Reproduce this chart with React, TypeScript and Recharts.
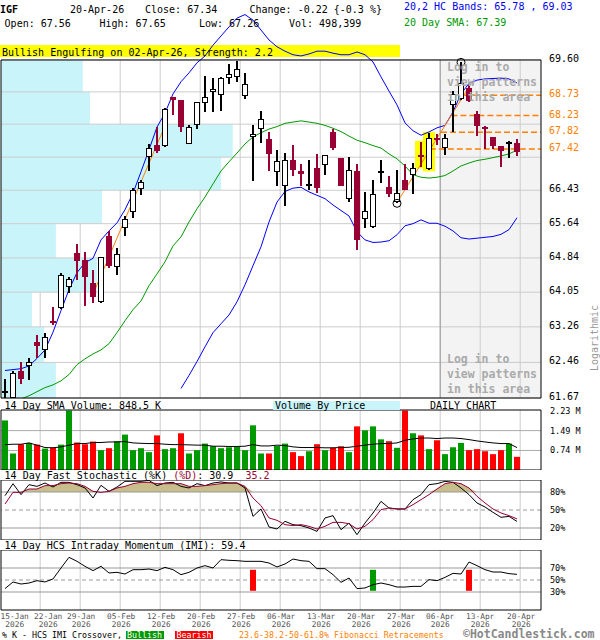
import React from 'react';
import {
  ComposedChart, Bar, Line, Area, XAxis, YAxis,
  ReferenceLine, ReferenceArea, ReferenceDot, Cell,
} from 'recharts';

const MONO = '"DejaVu Sans Mono", "Liberation Mono", monospace';
const MAROON = '#990033';
const ORANGE = '#ff7f00';
const GREEN = '#009900';
const GRID = '#cccccc';

// ---------- x axis (trading-day index, 0 = 15-Jan-2026) ----------
const TICK_INDEX = [0, 4, 9, 14, 19, 24, 29, 34, 39, 44, 49, 54, 59, 64];
const TICK_LABELS = ['15-Jan', '22-Jan', '29-Jan', '05-Feb', '12-Feb', '20-Feb', '27-Feb',
  '06-Mar', '13-Mar', '20-Mar', '27-Mar', '06-Apr', '13-Apr', '20-Apr'];
const TICK_YEAR = '2026';
const TICK_DX = [6.5, 8, 1, 1, 1, 1, 1, 1, 1, 1, 1, 0, 0, 1];
const GRID_OFFSET = 0.4;
const X_DOMAIN: [number, number] = [-0.5, 67];

// ---------- price (OHLC) ----------
const OPEN = [61.81, 61.69, 62.26, 62.39, 62.92, 62.76, 63.40, 63.69, 64.17, 64.95,
  64.80, 64.27, 63.84, 65.36, 64.64, 65.56, 65.93, 66.48, 67.24, 67.52,
  67.50, 68.68, 68.61, 67.56, 68.02, 68.56, 68.83, 68.75, 69.17, 69.20,
  68.73, 67.71, 67.92, 67.66, 66.88, 66.55, 67.16, 66.88, 66.56, 66.96,
  67.05, 67.84, 67.20, 66.23, 66.89, 65.75, 65.57, 66.86, 66.50, 66.16,
  66.68, 66.81, 67.28, 66.96, 67.68, 67.46, 68.49, 68.64, 68.91, 68.26,
  67.94, 67.70, 67.49, 67.56, 67.56];
const HIGH = [62.09, 62.26, 62.47, 62.57, 63.08, 63.13, 63.72, 64.49, 64.40, 65.17,
  64.97, 64.57, 64.86, 65.46, 65.07, 65.82, 66.49, 66.68, 67.53, 67.96,
  68.42, 68.69, 68.62, 68.00, 68.57, 69.19, 69.16, 69.18, 69.49, 69.58,
  69.27, 68.00, 68.33, 67.84, 67.40, 67.32, 67.52, 67.06, 67.16, 67.30,
  67.26, 67.90, 67.21, 67.22, 67.05, 66.38, 66.68, 67.16, 66.76, 66.92,
  67.05, 67.08, 67.58, 67.80, 67.78, 67.78, 68.82, 69.54, 68.98, 68.33,
  67.98, 67.71, 67.50, 67.61, 67.65];
const LOW = [61.65, 61.68, 61.99, 62.06, 62.56, 62.57, 63.31, 63.66, 64.04, 64.33,
  63.74, 63.81, 63.81, 64.60, 64.45, 65.36, 65.77, 66.32, 66.88, 67.33,
  67.46, 68.24, 67.82, 67.55, 67.90, 68.31, 68.31, 68.35, 69.01, 69.06,
  68.63, 66.65, 67.56, 66.89, 66.53, 66.06, 66.77, 66.53, 66.44, 66.36,
  66.80, 67.40, 66.52, 66.16, 65.03, 65.55, 65.55, 66.61, 66.28, 66.12,
  66.43, 66.34, 66.99, 66.92, 67.52, 67.28, 67.84, 68.61, 68.57, 67.72,
  67.42, 67.42, 66.99, 67.21, 67.26];
const CLOSE = [61.81, 62.21, 62.09, 62.45, 62.82, 63.02, 63.35, 64.43, 64.33, 64.76,
  64.39, 63.94, 64.84, 64.66, 64.91, 65.73, 66.42, 66.61, 67.44, 67.38,
  68.37, 68.62, 67.96, 67.95, 68.56, 68.68, 68.88, 69.15, 69.25, 69.37,
  69.00, 67.78, 68.14, 67.29, 67.11, 67.13, 66.92, 66.82, 66.56, 66.49,
  67.25, 67.44, 66.53, 66.89, 65.26, 65.93, 66.34, 66.86, 66.34, 66.36,
  66.44, 66.96, 67.22, 67.68, 67.64, 67.68, 68.75, 69.02, 68.59, 67.98,
  67.90, 67.50, 67.36, 67.56, 67.34];

// ---------- HC bands & 20-day SMA ----------
const UPPER_BAND = [62.28, 62.30, 62.32, 62.38, 62.55, 62.74, 63.14, 63.63, 64.11, 64.50,
  64.73, 64.83, 65.26, 65.47, 65.66, 65.97, 66.36, 66.87, 67.40, 67.95,
  68.29, 68.76, 69.06, 69.28, 69.53, 69.70, 69.97, 70.20, 70.43, 70.65,
  70.74, 70.60, 70.35, 70.10, 69.93, 69.82, 69.73, 69.70, 69.75, 69.82,
  69.82, 69.77, 69.73, 69.73, 69.80, 69.73, 69.55, 69.18, 68.83, 68.49,
  68.05, 67.86, 67.75, 67.83, 67.93, 67.99, 68.32, 68.76, 69.02, 69.10,
  69.13, 69.14, 69.15, 69.13, 69.03];
const LOWER_BAND = [null, null, null, null, null, null, null, null, null, null,
  null, null, null, null, null, null, null, null, null, null,
  null, null, 61.88, 62.17, 62.48, 62.81, 63.13, 63.33, 63.53, 63.83,
  64.22, 64.66, 65.10, 65.68, 66.15, 66.40, 66.48, 66.50, 66.39, 66.31,
  66.23, 66.08, 65.95, 65.82, 65.45, 65.26, 65.20, 65.21, 65.24, 65.38,
  65.59, 65.64, 65.73, 65.65, 65.65, 65.58, 65.47, 65.31, 65.28, 65.30,
  65.32, 65.34, 65.39, 65.50, 65.78];
const SMA20 = [null, null, 61.65, 61.72, 61.81, 61.90, 61.96, 62.05, 62.19, 62.41,
  62.54, 62.65, 62.74, 62.88, 63.13, 63.40, 63.65, 63.85, 64.20, 64.47,
  64.75, 65.12, 65.33, 65.68, 65.99, 66.27, 66.58, 66.89, 67.11, 67.32,
  67.54, 67.71, 67.81, 67.90, 67.96, 68.04, 68.07, 68.10, 68.07, 68.04,
  67.99, 67.92, 67.84, 67.73, 67.63, 67.57, 67.50, 67.44, 67.30, 67.18,
  67.01, 66.80, 66.74, 66.72, 66.74, 66.78, 66.89, 67.01, 67.08, 67.14,
  67.17, 67.21, 67.25, 67.30, 67.39];

// ---------- price axis ----------
const GRID_PRICES = [61.67, 62.46, 63.26, 64.05, 64.84, 65.64, 66.43, 67.22, 68.02, 68.81, 69.60];
const PRICE_LABELS = [61.67, 62.46, 63.26, 64.05, 64.84, 65.64, 66.43, 69.60];
const PRICE_DOMAIN: [number, number] = [61.67, 71.11];
const PANEL_LOW = 61.67;
const PANEL_HIGH = 69.60;

// ---------- volume by price (millions, bands between grid prices, bottom -> top) ----------
const VBP_VOLUME = [2.37, 1.86, 1.34, 4.14, 2.37, 4.36, 9.50, 10.0, 3.84, 3.53];
const VBP_UNITS_PER_M = 2.896;

// ---------- patterns / fibonacci ----------
const FIB_LEVELS = [68.73, 68.23, 67.82, 67.42];
const FIB_START = [57.4, 55.8, 54.5, 53.1];
const TREND_LINES = [
  { x1: 10.85, y1: 63.94, x2: 20, y2: 67.98 },
  { x1: 49, y1: 66.14, x2: 58, y2: 68.93 },
];
const SWING_POINTS = [{ i: 49, kind: 'low' }, { i: 57, kind: 'high' }];
const ENGULF_IDX = [52, 53];
const SHADE_FROM = 54;

// ---------- volume ----------
const VOLUME = [1.875, 0.625, 0.975, 1.025, 0.96, 0.81, 0.85, 0.96, 2.25, 1.04,
  0.975, 1.075, 0.75, 0.825, 1.09, 1.34, 0.75, 0.825, 0.675, 1.31,
  0.79, 0.825, 1.39, 0.625, 0.75, 1.0, 0.9, 0.825, 0.86, 0.875,
  0.75, 1.69, 0.625, 0.625, 0.91, 1.0, 0.675, 0.525, 0.71, 0.975,
  0.75, 0.84, 0.9, 0.675, 1.65, 1.5, 1.65, 1.16, 1.09, 0.84,
  2.25, 1.39, 1.31, 0.79, 1.125, 0.6, 0.86, 1.025, 0.75, 0.79,
  0.71, 0.6, 0.75, 1.0, 0.498];
const VOL_UP = [1, 1, 0, 1, 0, 1, 0, 1, 1, 0,
  0, 0, 1, 0, 1, 1, 1, 1, 1, 0,
  1, 1, 0, 1, 1, 1, 1, 1, 1, 1,
  1, 1, 1, 0, 1, 1, 0, 0, 1, 0,
  1, 0, 0, 1, 0, 1, 1, 1, 0, 1,
  0, 1, 0, 1, 0, 1, 1, 1, 0, 0,
  0, 0, 0, 1, 0];
const VOL_SMA = [0.96, 0.975, 0.975, 1.025, 0.94, 0.85, 0.84, 0.875, 0.94, 1.0,
  1.0, 1.04, 1.04, 1.06, 1.06, 1.075, 1.025, 1.01, 1.0, 1.0,
  0.975, 0.96, 0.96, 0.95, 0.94, 0.94, 0.9, 0.9, 0.89, 0.89,
  0.9, 0.96, 0.91, 0.91, 0.94, 0.925, 0.875, 0.85, 0.85, 0.85,
  0.84, 0.84, 0.85, 0.86, 0.9, 0.94, 0.975, 1.0, 1.0, 1.025,
  1.125, 1.175, 1.21, 1.21, 1.19, 1.21, 1.21, 1.19, 1.15, 1.1,
  1.06, 1.025, 1.0, 1.0, 0.8485];
const VOL_TICKS = [0.74, 1.49, 2.23];
const VOL_DOMAIN: [number, number] = [0, 2.27];

// ---------- stochastic ----------
const STOCH_K = [73.9, 93.9, 75.6, 92.2, 89.4, 95, 88.3, 96.1, 96.1, 92.2,
  86.7, 70, 91.1, 81.1, 88.3, 97.8, 97.8, 97.8, 99.4, 90.6,
  95, 96.1, 89.4, 86.7, 93.9, 90.6, 95, 96.7, 95, 95,
  86.7, 39.4, 51.7, 21.7, 18.3, 31.1, 25.6, 23.9, 20, 14.4,
  36.7, 40.6, 17.2, 28.3, 8.9, 28.3, 45, 64.4, 53.3, 51.7,
  51.7, 67.2, 75.6, 92.2, 93.9, 97.8, 96.1, 86.7, 75.6, 61.7,
  55, 46.1, 37.8, 39.4, 30.9];
const STOCH_D = [60, 79.4, 79.4, 85, 85, 90.6, 90.6, 93.9, 95, 93.9,
  89.4, 81.1, 79.4, 81.1, 86.7, 89.4, 93.9, 96.1, 96.1, 93.9,
  93.9, 93.9, 93.9, 89.4, 89.4, 90.6, 92.2, 93.9, 95, 95,
  89.4, 70, 57.2, 36.7, 32.8, 25.6, 23.9, 25.6, 22.8, 18.3,
  22.8, 29.4, 29.4, 27.2, 18.3, 22.8, 33.9, 50.6, 53.3, 51.7,
  51.7, 58.9, 67.2, 75.6, 85, 93.9, 96.1, 93.9, 86.7, 72.8,
  61.7, 51.7, 45, 40.6, 35.2];
const STOCH_LEVELS = [80, 50, 20];

// ---------- intraday momentum ----------
const IMI = [35.6, 46.7, 43.3, 45, 48.9, 46.7, 51.7, 70, 87.8, 81.1,
  72.8, 65.6, 72.8, 61.7, 62.8, 60, 67.2, 67.2, 68.3, 65.6,
  71.1, 67.2, 58.9, 62.8, 70, 73.9, 70, 83.9, 82.8, 82.2,
  81.1, 81.1, 81.1, 78.3, 71.7, 76.7, 85, 82.2, 81.1, 68.9,
  68.9, 58.9, 46.1, 53.3, 35.6, 36.7, 42.2, 45, 42.2, 38.3,
  38.3, 39.4, 39.4, 50.6, 48.9, 54.4, 61.1, 60, 80, 73.9,
  67.2, 63.3, 63.3, 60.6, 59.4];
const IMI_LEVELS = [70, 50, 30];
const CROSSOVERS = [{ i: 31, bull: false }, { i: 46, bull: true }, { i: 58, bull: false }];
const SIGNAL_RANGE: [number, number] = [32, 67];

const gridXs = TICK_INDEX.slice(1).map((t) => t + GRID_OFFSET);

const Candle = (props: any) => {
  const { x, y, width, height, payload } = props;
  if (!payload || x == null || y == null) return null;
  const { o, h, l, c } = payload;
  const top = Math.min(y, y + height);
  const bot = Math.max(y, y + height);
  const lh = Math.log(h);
  const ll = Math.log(l);
  const py = (v: number) => top + ((bot - top) * (lh - Math.log(v))) / (lh - ll);
  const cx = Math.round(x + width / 2);
  if (o === c) {
    return (
      <g shapeRendering="crispEdges">
        <line x1={cx} x2={cx} y1={top} y2={bot} stroke="#000" strokeWidth={1.3} />
        <line x1={cx - 3} x2={cx + 3} y1={py(o)} y2={py(o)} stroke="#000" strokeWidth={2} />
      </g>
    );
  }
  if (c > o) {
    return (
      <g shapeRendering="crispEdges">
        <line x1={cx} x2={cx} y1={top} y2={bot} stroke="#000" strokeWidth={1.3} />
        <rect x={cx - 2.5} y={py(c)} width={5} height={Math.max(1, py(o) - py(c))} fill="#fff" stroke="#000" strokeWidth={1} />
      </g>
    );
  }
  return (
    <g shapeRendering="crispEdges">
      <line x1={cx} x2={cx} y1={top} y2={bot} stroke={MAROON} strokeWidth={1.3} />
      <rect x={cx - 3} y={py(o)} width={6} height={Math.max(1.5, py(c) - py(o))} fill={MAROON} />
    </g>
  );
};

const PriceTick = (props: any) => {
  const { x, y, payload } = props;
  const v = payload.value as number;
  const fib = FIB_LEVELS.includes(v);
  return (
    <text x={x} y={y} dy={2} textAnchor="start" fontFamily={MONO} fontSize={10} fill={fib ? ORANGE : '#000'}>
      {v.toFixed(2)}
    </text>
  );
};

const makeSmallTick = (fmt: (v: number) => string) => (props: any) => {
  const { x, y, payload } = props;
  return (
    <text x={x} y={y} dy={3} textAnchor="start" fontFamily={MONO} fontSize={8.5} fill="#000">
      {fmt(payload.value)}
    </text>
  );
};
const VolTick = makeSmallTick((v) => `${v.toFixed(2)} M`);
const PctTick = makeSmallTick((v) => `${v}%`);

const DateTick = (props: any) => {
  const { x, y, payload } = props;
  const k = TICK_INDEX.findIndex((t) => Math.abs(t + GRID_OFFSET - payload.value) < 1e-6);
  if (k < 0) return null;
  const tx = x + TICK_DX[k];
  return (
    <g>
      <text x={tx} y={y + 9} textAnchor="middle" fontFamily={MONO} fontSize={7.8} fill="#555">{TICK_LABELS[k]}</text>
      <text x={tx} y={y + 17} textAnchor="middle" fontFamily={MONO} fontSize={7.8} fill="#555">{TICK_YEAR}</text>
    </g>
  );
};

const Txt = ({ x, cy, size = 10, color = '#000', bold = false, children, bg }: any) => (
  <div
    style={{
      position: 'absolute', left: x, top: cy - size * 0.48, fontSize: size, lineHeight: `${size}px`,
      fontFamily: MONO, color, fontWeight: bold ? 'bold' : 'normal', whiteSpace: 'pre', background: bg,
    }}
  >
    {children}
  </div>
);

export default function App() {
  const priceRows = OPEN.map((o, i) => ({
    i, o, h: HIGH[i], l: LOW[i], c: CLOSE[i], ub: UPPER_BAND[i], lb: LOWER_BAND[i], sma: SMA20[i],
  }));
  const volRows = VOLUME.map((v, i) => ({ i, v, s: VOL_SMA[i], up: VOL_UP[i] }));
  const stochRows = STOCH_K.map((k, i) => ({ i, k, d: STOCH_D[i] }));
  const imiRows = IMI.map((m, i) => ({ i, m }));

  const vGrid = (lo: number, hi: number, key: string) =>
    gridXs.map((gx) => (
      <ReferenceLine key={`${key}${gx}`} segment={[{ x: gx, y: lo }, { x: gx, y: hi }]} stroke={GRID} zIndex={2} />
    ));

  return (
    <div style={{ position: 'absolute', left: 0, top: 0, width: 600, height: 640, background: '#fff', overflow: 'hidden' }}>
      {/* pattern banner (under chart) */}
      <div style={{ position: 'absolute', left: 0, top: 45, width: 400, height: 12, background: '#ffff00' }} />

      {/* ---------- PRICE PANEL ---------- */}
      <div style={{ position: 'absolute', left: 0, top: 0 }}>
        <ComposedChart width={600} height={410} data={priceRows} margin={{ top: 0, right: 0, bottom: 12, left: 1 }}>
          <XAxis dataKey="i" type="number" domain={X_DOMAIN} hide allowDataOverflow />
          <YAxis
            orientation="right" width={59} type="number" scale="log" domain={PRICE_DOMAIN} allowDataOverflow
            ticks={[...PRICE_LABELS, ...FIB_LEVELS]} interval={0} tick={<PriceTick />}
            tickLine={false} axisLine={false} tickSize={0} tickMargin={8}
          />
          <ReferenceArea x1={SHADE_FROM + GRID_OFFSET} x2={X_DOMAIN[1]} y1={PANEL_LOW} y2={PANEL_HIGH} fill="#f3f3f3" fillOpacity={1} stroke="none" zIndex={1} />
          {vGrid(PANEL_LOW, PANEL_HIGH, 'pv')}
          {VBP_VOLUME.map((v, k) => (
            <ReferenceArea key={`vbp${k}`} x1={X_DOMAIN[0]} x2={X_DOMAIN[0] + v * VBP_UNITS_PER_M}
              y1={GRID_PRICES[k]} y2={GRID_PRICES[k + 1]} fill="#c8f4fa" fillOpacity={1} stroke="none" zIndex={3} />
          ))}
          {GRID_PRICES.map((p) => (
            <ReferenceLine key={`ph${p}`} y={p} stroke={GRID} zIndex={4} />
          ))}
          <ReferenceLine segment={[{ x: SHADE_FROM + GRID_OFFSET, y: PANEL_LOW }, { x: SHADE_FROM + GRID_OFFSET, y: PANEL_HIGH }]} stroke="#999" zIndex={4} />
          {ENGULF_IDX.map((idx) => (
            <ReferenceArea key={`hl${idx}`} x1={idx - 0.75} x2={idx + 0.75} y1={LOW[idx] - 0.04} y2={HIGH[idx] + 0.035}
              fill="#ffff00" fillOpacity={1} stroke="none" zIndex={5} />
          ))}
          <Line dataKey="ub" stroke="#0000ff" strokeWidth={1} dot={false} activeDot={false} isAnimationActive={false} zIndex={6} />
          <Line dataKey="lb" stroke="#0000ff" strokeWidth={1} dot={false} activeDot={false} isAnimationActive={false} zIndex={6} />
          <Line dataKey="sma" stroke={GREEN} strokeWidth={1} dot={false} activeDot={false} isAnimationActive={false} zIndex={6} />
          {TREND_LINES.map((t, k) => (
            <ReferenceLine key={`tr${k}`} segment={[{ x: t.x1, y: t.y1 }, { x: t.x2, y: t.y2 }]} stroke={ORANGE} strokeWidth={1} zIndex={7} />
          ))}
          {FIB_LEVELS.map((lv, k) => (
            <ReferenceLine key={`fib${k}`} segment={[{ x: FIB_START[k], y: lv }, { x: X_DOMAIN[1], y: lv }]}
              stroke={ORANGE} strokeWidth={1.5} strokeDasharray="6 3" zIndex={7} />
          ))}
          <Bar dataKey={(d: any) => [d.l, d.h]} shape={(p: any) => <Candle {...p} />} barSize={6} isAnimationActive={false} zIndex={8} />
          {SWING_POINTS.map((s) => (
            <ReferenceDot key={`sw${s.i}`} x={s.i} y={s.kind === 'low' ? LOW[s.i] : HIGH[s.i]} r={4}
              fill="none" stroke="#000" strokeWidth={1} zIndex={9} />
          ))}
          <ReferenceArea x1={X_DOMAIN[0]} x2={X_DOMAIN[1]} y1={PANEL_LOW} y2={PANEL_HIGH} fill="none" stroke="#000" strokeWidth={1} zIndex={10} />
        </ComposedChart>
      </div>

      {/* ---------- VOLUME PANEL ---------- */}
      <div style={{ position: 'absolute', left: 0, top: 404 }}>
        <ComposedChart width={600} height={66} data={volRows} margin={{ top: 6, right: 0, bottom: 0, left: 1 }}>
          <XAxis dataKey="i" type="number" domain={X_DOMAIN} hide allowDataOverflow />
          <YAxis orientation="right" width={59} type="number" domain={VOL_DOMAIN} allowDataOverflow ticks={VOL_TICKS}
            interval={0} tick={<VolTick />} tickLine={false} axisLine={false} tickSize={0} tickMargin={9} />
          {vGrid(VOL_DOMAIN[0], VOL_DOMAIN[1], 'vv')}
          {VOL_TICKS.slice(0, 2).map((v) => (
            <ReferenceLine key={`vh${v}`} y={v} stroke="#aaa" zIndex={3} />
          ))}
          <Bar dataKey="v" barSize={6} isAnimationActive={false} zIndex={5}>
            {volRows.map((r) => (
              <Cell key={`vc${r.i}`} fill={r.up ? GREEN : '#ff0000'} />
            ))}
          </Bar>
          <Line dataKey="s" stroke="#000" strokeWidth={1} dot={false} activeDot={false} isAnimationActive={false} zIndex={6} />
          <ReferenceArea x1={X_DOMAIN[0]} x2={X_DOMAIN[1]} y1={VOL_DOMAIN[0]} y2={VOL_DOMAIN[1]} fill="none" stroke="#000" zIndex={10} />
        </ComposedChart>
      </div>

      {/* ---------- STOCHASTIC PANEL ---------- */}
      <div style={{ position: 'absolute', left: 0, top: 480 }}>
        <ComposedChart width={600} height={60} data={stochRows} margin={{ top: 0, right: 0, bottom: 0, left: 1 }}>
          <XAxis dataKey="i" type="number" domain={X_DOMAIN} hide allowDataOverflow />
          <YAxis orientation="right" width={59} type="number" domain={[0, 100]} ticks={STOCH_LEVELS}
            interval={0} tick={<PctTick />} tickLine={false} axisLine={false} tickSize={0} tickMargin={9} />
          {vGrid(0, 100, 'sv')}
          <Area dataKey={(d: any) => [80, Math.max(80, d.d)]} type="linear" stroke="none" fill="#c8be8c" fillOpacity={1}
            isAnimationActive={false} activeDot={false} zIndex={3} />
          {STOCH_LEVELS.map((v) => (
            <ReferenceLine key={`sh${v}`} y={v} stroke="#999" strokeDasharray={v === 50 ? '4 3' : undefined} zIndex={4} />
          ))}
          <Line dataKey="k" stroke="#000" strokeWidth={1} dot={false} activeDot={false} isAnimationActive={false} zIndex={6} />
          <Line dataKey="d" stroke={MAROON} strokeWidth={1} dot={false} activeDot={false} isAnimationActive={false} zIndex={7} />
          <ReferenceArea x1={X_DOMAIN[0]} x2={X_DOMAIN[1]} y1={0} y2={100} fill="none" stroke="#000" zIndex={10} />
        </ComposedChart>
      </div>

      {/* ---------- IMI PANEL ---------- */}
      <div style={{ position: 'absolute', left: 0, top: 550 }}>
        <ComposedChart width={600} height={84} data={imiRows} margin={{ top: 0, right: 0, bottom: 0, left: 1 }}>
          <XAxis dataKey="i" type="number" domain={X_DOMAIN} allowDataOverflow height={24}
            ticks={TICK_INDEX.map((t) => t + GRID_OFFSET)} interval={0} tick={<DateTick />}
            tickLine={false} axisLine={false} tickSize={0} tickMargin={0} />
          <YAxis orientation="right" width={59} type="number" domain={[0, 100]} ticks={IMI_LEVELS}
            interval={0} tick={<PctTick />} tickLine={false} axisLine={false} tickSize={0} tickMargin={9} />
          {vGrid(0, 100, 'iv')}
          {IMI_LEVELS.map((v) => (
            <ReferenceLine key={`ih${v}`} y={v} stroke="#999" strokeDasharray={v === 50 ? '4 3' : undefined} zIndex={4} />
          ))}
          {CROSSOVERS.map((s) => (
            <ReferenceArea key={`sig${s.i}`} x1={s.i - 0.375} x2={s.i + 0.375} y1={SIGNAL_RANGE[0]} y2={SIGNAL_RANGE[1]}
              fill={s.bull ? GREEN : '#ff0000'} fillOpacity={1} stroke="none" zIndex={5} />
          ))}
          <Line dataKey="m" stroke="#000" strokeWidth={1} dot={false} activeDot={false} isAnimationActive={false} zIndex={6} />
          <ReferenceArea x1={X_DOMAIN[0]} x2={X_DOMAIN[1]} y1={0} y2={100} fill="none" stroke="#000" zIndex={10} />
        </ComposedChart>
      </div>

      {/* ---------- header texts ---------- */}
      <Txt x={0} cy={9.3} bold>IGF</Txt>
      <Txt x={70} cy={9.3}>20-Apr-26</Txt>
      <Txt x={145} cy={9.3}>Close: 67.34</Txt>
      <Txt x={249.5} cy={9.3}>{'Change: -0.22 {-0.3 %}'}</Txt>
      <Txt x={404} cy={6.7} color="#0000ee">20,2 HC Bands: 65.78 , 69.03</Txt>
      <Txt x={4.6} cy={24}>Open: 67.56</Txt>
      <Txt x={99.5} cy={24}>High: 67.65</Txt>
      <Txt x={199} cy={24}>Low: 67.26</Txt>
      <Txt x={289} cy={24}>Vol: 498,399</Txt>
      <Txt x={404} cy={22.3} color={GREEN}>20 Day SMA: 67.39</Txt>
      <Txt x={2} cy={52.3}>Bullish Engulfing on 02-Apr-26, Strength: 2.2</Txt>

      {/* login overlays */}
      <div style={{ position: 'absolute', left: 447, top: 60, fontFamily: MONO, fontSize: 11.5, lineHeight: '15px', fontWeight: 'bold', color: '#aaa', whiteSpace: 'pre' }}>
        {'Log in to\nview patterns\nin this area'}
      </div>
      <div style={{ position: 'absolute', left: 447, top: 351.5, fontFamily: MONO, fontSize: 11.5, lineHeight: '15px', fontWeight: 'bold', color: '#aaa', whiteSpace: 'pre' }}>
        {'Log in to\nview patterns\nin this area'}
      </div>

      {/* axis caption */}
      <div style={{ position: 'absolute', left: 594, top: 338, fontFamily: MONO, fontSize: 10, color: '#999', whiteSpace: 'pre', transform: 'translate(-50%, -50%) rotate(-90deg)' }}>
        Logarithmic
      </div>

      {/* panel captions */}
      <Txt x={4.6} cy={406}>14 Day SMA Volume: 848.5 K</Txt>
      <div style={{ position: 'absolute', left: 273, top: 401, width: 127, height: 9, background: '#c8f4fa' }} />
      <Txt x={275} cy={406}>Volume By Price</Txt>
      <Txt x={430} cy={406}>DAILY CHART</Txt>
      <Txt x={4.6} cy={476}>
        {'14 Day Fast Stochastic (%K) '}<span style={{ color: MAROON }}>(%D)</span>{': 30.9  '}<span style={{ color: MAROON }}>35.2</span>
      </Txt>
      <Txt x={4.6} cy={546}>14 Day HCS Intraday Momentum (IMI): 59.4</Txt>

      {/* legend */}
      <Txt x={2} cy={635} size={8.3}>% K - HCS IMI Crossover,</Txt>
      <div style={{ position: 'absolute', left: 125.5, top: 630.7, width: 38.5, height: 8.8, background: GREEN }} />
      <Txt x={127} cy={635} size={8.3} color="#fff">Bullish</Txt>
      <div style={{ position: 'absolute', left: 175, top: 630.7, width: 38, height: 8.8, background: '#ff0000' }} />
      <Txt x={176.5} cy={635} size={8.3} color="#fff">Bearish</Txt>
      <Txt x={239} cy={635} size={8.3} color={ORANGE}>23.6-38.2-50-61.8% Fibonacci Retracements</Txt>
      <Txt x={463} cy={635} size={11.5} color="#888" bold>©HotCandlestick.com</Txt>
    </div>
  );
}
